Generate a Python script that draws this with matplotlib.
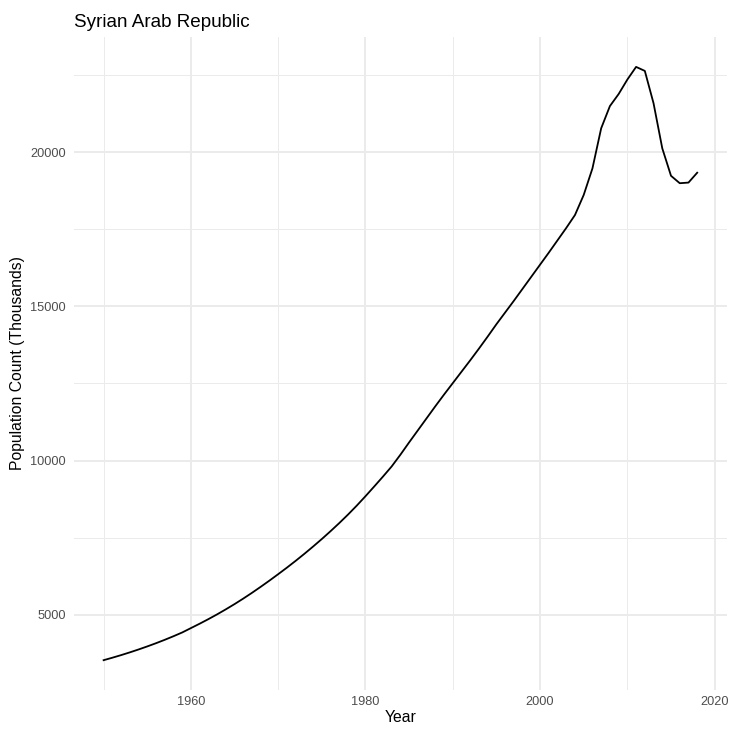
import numpy as np
import matplotlib
matplotlib.use("Agg")
import matplotlib.pyplot as plt
from matplotlib.ticker import MultipleLocator

plt.rcParams['font.family'] = ['Liberation Sans', 'DejaVu Sans']

years = list(range(1950, 2019))
population = [
    3530, 3610, 3694, 3783, 3877, 3976, 4080, 4190, 4306, 4428,
    4570, 4712, 4860, 5015, 5178, 5348, 5527, 5714, 5909, 6110,
    6318, 6530, 6750, 6978, 7214, 7458, 7712, 7975, 8250, 8540,
    8845, 9160, 9480, 9810, 10190, 10590, 10980, 11370, 11760, 12140,
    12510, 12880, 13250, 13630, 14020, 14420, 14800, 15180, 15570, 15960,
    16350, 16740, 17140, 17540, 17960, 18610, 19470, 20770, 21490, 21880,
    22350, 22760, 22630, 21580, 20120, 19230, 18990, 19010, 19330,
]
title = "Syrian Arab Republic"

fig = plt.figure(figsize=(7.32, 7.30), dpi=100)
ax = fig.add_axes([0.101, 0.055, 0.892, 0.894])

ax.plot(years, population, color="black", linewidth=1.3, zorder=3)

# ggplot-like expansion (5%)
xr = max(years) - min(years)
yr = max(population) - min(population)
ax.set_xlim(min(years) - 0.05 * xr, max(years) + 0.05 * xr)
ax.set_ylim(min(population) - 0.05 * yr, max(population) + 0.05 * yr)

ax.xaxis.set_major_locator(MultipleLocator(20))
ax.xaxis.set_minor_locator(MultipleLocator(10))
ax.yaxis.set_major_locator(MultipleLocator(5000))
ax.yaxis.set_minor_locator(MultipleLocator(2500))

ax.grid(which="major", color="#EBEBEB", linewidth=1.4)
ax.grid(which="minor", color="#EBEBEB", linewidth=0.7)
ax.set_axisbelow(True)
for s in ax.spines.values():
    s.set_visible(False)

ax.tick_params(which="both", length=0)
ax.tick_params(axis="y", labelsize=9.2, labelcolor="#4D4D4D", pad=5.8)
ax.tick_params(axis="x", labelsize=9.2, labelcolor="#4D4D4D", pad=4.5)

ax.set_xlabel("Year", fontsize=11.3, labelpad=1.5)
ax.set_ylabel("Population Count (Thousands)", fontsize=11.3, labelpad=3.5)
ax.set_title(title, loc="left", fontsize=13.6, pad=7.5)

fig.savefig("out.png", dpi=100)
